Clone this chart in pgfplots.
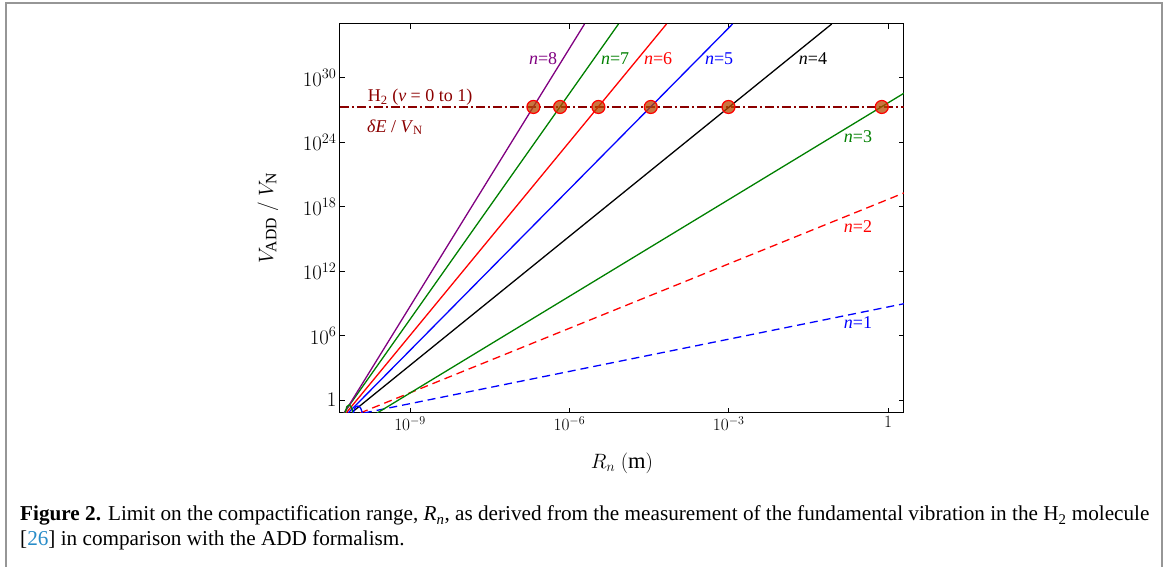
\documentclass[border=0pt]{standalone}
\usepackage{fontspec}
\setmainfont{Liberation Serif}
\usepackage{pgfplots}
\pgfplotsset{compat=1.18}

\definecolor{mpurple}{HTML}{800080}
\definecolor{mgreen}{HTML}{008000}
\definecolor{hline}{HTML}{8B0000}
\definecolor{dotfill}{RGB}{182,72,0}
\definecolor{reflink}{RGB}{40,140,200}
\definecolor{frame}{RGB}{150,150,150}

\begin{document}
\begin{tikzpicture}[x=1pt,y=1pt]
\useasboundingbox (0,0) rectangle (1168,567);
\draw[frame, line width=2pt] (6,-2) -- (6,564) -- (1162,564) -- (1162,-2);

\begin{axis}[
    at={(340pt,154pt)}, anchor=south west,
    scale only axis, width=564pt, height=389pt,
    xmode=log, ymode=log,
    xmin=4.79e-11, xmax=2,
    ymin=0.0631, ymax=1e35,
    xtick={1e-9,1e-6,1e-3,1},
    xticklabels={$10^{-9}$,$10^{-6}$,$10^{-3}$,$1$},
    ytick={1,1e6,1e12,1e18,1e24,1e30},
    yticklabels={$1$,$10^{6}$,$10^{12}$,$10^{18}$,$10^{24}$,$10^{30}$},
    xminorticks=false, yminorticks=false,
    tick align=inside, major tick length=5pt,
    axis line style={line width=1pt},
    every tick/.style={black, line width=0.8pt},
    x tick label style={font=\fontsize{16.5}{16.5}\selectfont},
    y tick label style={font=\fontsize{20.5}{20.5}\selectfont},
    xlabel={$R_n\ (\mathrm{m})$},
    ylabel={$V_{\mathrm{ADD}}\ /\ V_{\mathrm{N}}$},
    xlabel style={font=\fontsize{22.5}{22.5}\selectfont, at={(axis description cs:0.5,-0.1285)}, anchor=center},
    ylabel style={font=\fontsize{22.5}{22.5}\selectfont, at={(axis description cs:-0.1277,0.5)}, anchor=center},
    every axis plot/.append style={line width=1.3pt},
  ]

  % H2 vibration limit
  \addplot[hline, line width=1.6pt, dash pattern=on 9pt off 3pt on 2pt off 3pt]
    coordinates {(4.79e-11,1.9e27) (2,1.9e27)};

  % intersections
  \addplot[only marks, mark=*, mark size=6.5pt,
    mark options={draw=red, fill=dotfill, fill opacity=0.75, line width=1.2pt}]
    coordinates {(2.10e-7,1.9e27) (6.68e-7,1.9e27) (3.52e-6,1.9e27)
                 (3.41e-5,1.9e27) (9.91e-4,1.9e27) (0.764,1.9e27)};

  % n = 1 ... 8
  \addplot[blue, dash pattern=on 8pt off 5pt] coordinates {(1.349e-10,0.0631) (2,9.33e8)};
  \addplot[red, dash pattern=on 8pt off 5pt] coordinates {(1.148e-10,0.0631) (2,1.91e19)};
  \addplot[mgreen] coordinates {(2.40e-10,0.0631) (2,3.63e28)};
  \addplot[black] coordinates {(7.76e-11,0.0631) (8.71e-2,1e35)};
  \addplot[blue] coordinates {(6.81e-11,0.0631) (1.183e-3,1e35)};
  \addplot[red] coordinates {(6.25e-11,0.0631) (6.75e-5,1e35)};
  \addplot[mgreen] coordinates {(5.68e-11,0.0631) (8.41e-6,1e35)};
  \addplot[mpurple] coordinates {(5.75e-11,0.0631) (1.93e-6,1e35)};

  % small loops near the origin
  \addplot[mgreen, smooth] coordinates {(6.03e-11,0.0631) (6.46e-11,0.251) (7.08e-11,0.355) (7.76e-11,0.251) (8.51e-11,0.0631)};
  \addplot[blue, smooth] coordinates {(8.51e-11,0.0631) (9.33e-11,0.224) (1.047e-10,0.282) (1.175e-10,0.178) (1.259e-10,0.0631)};

  \begin{scope}[font=\fontsize{18}{18}\selectfont]
  \node[mpurple] at (axis cs:3.2e-7,6.3e31) {\textit{n}=8};
  \node[mgreen] at (axis cs:7.26e-6,6.3e31) {\textit{n}=7};
  \node[red] at (axis cs:4.68e-5,6.3e31) {\textit{n}=6};
  \node[blue] at (axis cs:6.59e-4,6.3e31) {\textit{n}=5};
  \node[black] at (axis cs:3.88e-2,6.3e31) {\textit{n}=4};
  \node[mgreen] at (axis cs:0.273,3.6e24) {\textit{n}=3};
  \node[red] at (axis cs:0.273,1.5e16) {\textit{n}=2};
  \node[blue] at (axis cs:0.273,1.8e7) {\textit{n}=1};
  \node[hline] at (axis cs:1.55e-9,1.5e28) {H\textsubscript{2} (\textit{v} = 0 to 1)};
  \node[hline] at (axis cs:5.2e-10,2.5e25) {\textit{δE} / \textit{V}\textsubscript{N}};
  \end{scope}
\end{axis}

\begin{scope}[font=\fontsize{21.2}{24}\selectfont]
\node[anchor=base west, inner sep=0] at (20,46) {\textbf{Figure 2.} Limit on the compactification range, \textit{R}\textsubscript{\textit{n}}, as derived from the measurement of the fundamental vibration in the H\textsubscript{2} molecule};
\node[anchor=base west, inner sep=0] at (20,21) {[{\color{reflink}26}] in comparison with the ADD formalism.};
\end{scope}
\end{tikzpicture}
\end{document}
